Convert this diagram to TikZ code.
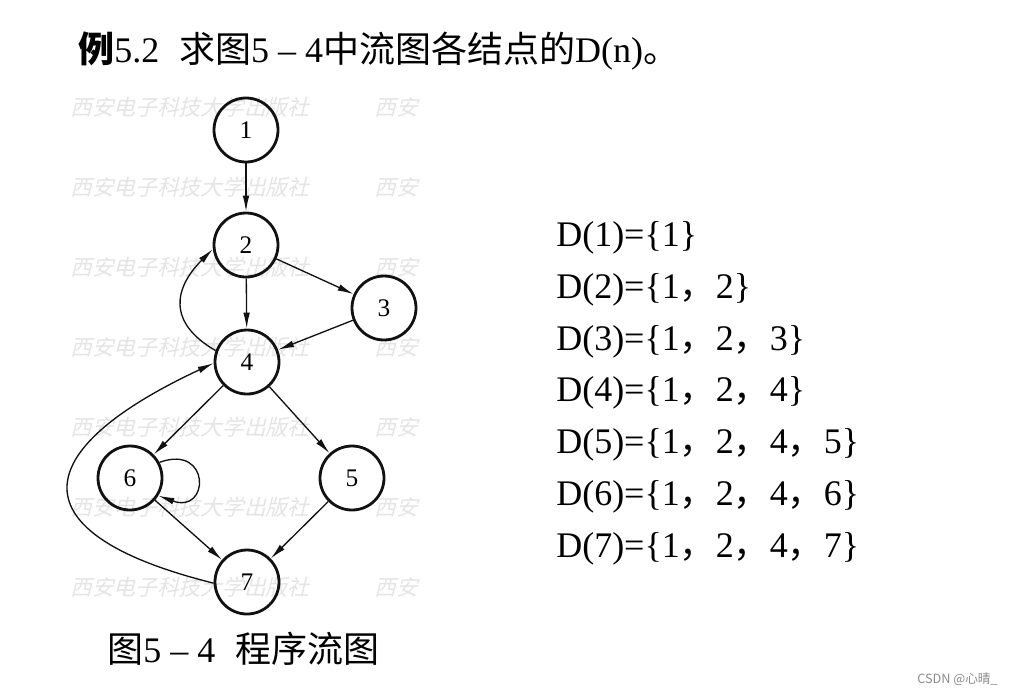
\documentclass[tikz,border=0pt]{standalone}
\usepackage{fontspec}
\setmainfont{Liberation Serif}
\newfontfamily\cjk{Noto Sans CJK SC}
\newfontfamily\wmark[FakeSlant=0.25]{Noto Sans CJK SC}
\usetikzlibrary{arrows.meta,positioning}
\definecolor{Line}{HTML}{111111}
\definecolor{Mark}{HTML}{E4E4E4}
\definecolor{Tag}{HTML}{8A8A8A}
\newcommand\dsep{{\cjk ，}}

\begin{document}
\begin{tikzpicture}[
 x=0.75pt,y=-0.75pt,
 v/.style={circle,draw=Line,line width=2.1pt,minimum size=48pt,inner sep=0pt,font=\fontsize{19}{21}\selectfont},
 a/.style={-{Latex[length=12pt,width=5pt]},line width=1pt,draw=Line},
 big/.style={anchor=base west,inner sep=0pt,font=\fontsize{27}{30}\selectfont},
 wm/.style={anchor=base west,inner sep=0pt,text=Mark,font=\wmark\fontsize{16.3}{18}\selectfont}
]
\useasboundingbox (0,0) rectangle (1013,694);
\foreach \y in {115,195,275,355,435,515,595}{
 \node[wm] (wa\y) at (70,\y) {西安电子科技大学出版社};
 \node[wm] (wb\y) at (374,\y) {西安};
}
\node[big] (title) at (78,62) {{\cjk\bfseries 例}5.2\hspace{0.55em}{\cjk 求图}5 – 4{\cjk 中流图各结点的}D(n){\cjk 。}};
\node[v] (n1) at (246,130) {1};
\node[v] (n2) at (246,245) {2};
\node[v] (n3) at (384,308) {3};
\node[v] (n4) at (247,362) {4};
\node[v] (n6) at (130,478) {6};
\node[v] (n5) at (352,478) {5};
\node[v] (n7) at (247,582) {7};
\draw[a] (n1)--(n2);
\draw[a] (n2)--(n4);
\draw[a] (n2)--(n3);
\draw[a] (n3)--(n4);
\draw[a] (n4)--(n6);
\draw[a] (n4)--(n5);
\draw[a] (n6)--(n7);
\draw[a] (n5)--(n7);
\draw[a] (n4.160) to[out=150,in=225,looseness=1.4] (n2.187);
\draw[a] (n6.28) to[out=20,in=-20,looseness=4.2] (n6.-32);
\draw[a] (n7.182) to[out=166,in=205,looseness=2.4] (n4.182);
\node[big] (d1) at (556,246) {D(1)=\{1\}};
\node[big] (d2) at (556,298) {D(2)=\{1\dsep 2\}};
\node[big] (d3) at (556,350) {D(3)=\{1\dsep 2\dsep 3\}};
\node[big] (d4) at (556,401) {D(4)=\{1\dsep 2\dsep 4\}};
\node[big] (d5) at (556,453) {D(5)=\{1\dsep 2\dsep 4\dsep 5\}};
\node[big] (d6) at (556,505) {D(6)=\{1\dsep 2\dsep 4\dsep 6\}};
\node[big] (d7) at (556,557) {D(7)=\{1\dsep 2\dsep 4\dsep 7\}};
\node[big] (cap) at (107,662) {{\cjk 图}5 – 4\hspace{0.55em}{\cjk 程序流图}};
\node[anchor=base east,inner sep=0pt,text=Tag,font=\cjk\fontsize{9.5}{11}\selectfont] (csdn) at (998,683) {CSDN @心晴\_};
\end{tikzpicture}
\end{document}
